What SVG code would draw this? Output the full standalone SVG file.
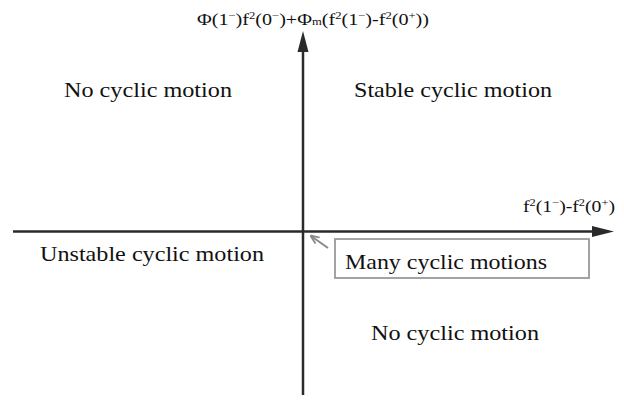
<svg xmlns="http://www.w3.org/2000/svg" width="624" height="401" viewBox="0 0 624 401">
<style>
text{font-family:'Times New Roman','Liberation Serif',serif;fill:#111}
.lbl{font-size:21px}
.ax{font-size:16px}
.sup{font-size:10px}
.axis{stroke:#2a2a2a;stroke-width:2.5;fill:none}
</style>
<defs>
<marker id="ahg" viewBox="0 0 10 10" refX="9" refY="5" markerWidth="9" markerHeight="9" markerUnits="userSpaceOnUse" orient="auto">
<path d="M0,1 L10,5 L0,9" fill="none" stroke="#8a8a8a" stroke-width="2"/>
</marker>
</defs>
<g id="connectors">
<line class="axis" x1="303" y1="395" x2="303" y2="40"/>
<path d="M297.5,52 L303,31 L308.5,52 Z" fill="#2a2a2a"/>
<line class="axis" x1="13" y1="231.5" x2="598" y2="231.5"/>
<path d="M592,226 L614,231.5 L592,237 Z" fill="#2a2a2a"/>
<line x1="328" y1="248" x2="311" y2="236" stroke="#8a8a8a" stroke-width="2" marker-end="url(#ahg)"/>
</g>
<g id="y-label">
<text class="ax" x="197" y="25" textLength="232" lengthAdjust="spacingAndGlyphs">Φ(1<tspan class="sup" dy="-6">−</tspan><tspan dy="6">)f</tspan><tspan class="sup" dy="-6">2</tspan><tspan dy="6">(0</tspan><tspan class="sup" dy="-6">−</tspan><tspan dy="6">)+Φ</tspan><tspan class="sup">m</tspan>(f<tspan class="sup" dy="-6">2</tspan><tspan dy="6">(1</tspan><tspan class="sup" dy="-6">−</tspan><tspan dy="6">)-f</tspan><tspan class="sup" dy="-6">2</tspan><tspan dy="6">(0</tspan><tspan class="sup" dy="-6">+</tspan><tspan dy="6">))</tspan></text>
</g>
<g id="x-label">
<text class="ax" x="523" y="212" textLength="92" lengthAdjust="spacingAndGlyphs">f<tspan class="sup" dy="-6">2</tspan><tspan dy="6">(1</tspan><tspan class="sup" dy="-6">−</tspan><tspan dy="6">)-f</tspan><tspan class="sup" dy="-6">2</tspan><tspan dy="6">(0</tspan><tspan class="sup" dy="-6">+</tspan><tspan dy="6">)</tspan></text>
</g>
<g id="q2">
<text class="lbl" x="64" y="97" textLength="168" lengthAdjust="spacingAndGlyphs">No cyclic motion</text>
</g>
<g id="q1">
<text class="lbl" x="354" y="97" textLength="198" lengthAdjust="spacingAndGlyphs">Stable cyclic motion</text>
</g>
<g id="q3">
<text class="lbl" x="40" y="261" textLength="224" lengthAdjust="spacingAndGlyphs">Unstable cyclic motion</text>
</g>
<g id="q4">
<text class="lbl" x="371" y="340" textLength="168" lengthAdjust="spacingAndGlyphs">No cyclic motion</text>
</g>
<g id="many">
<rect x="335" y="239" width="254" height="39" fill="none" stroke="#9a9a9a" stroke-width="1.8"/>
<text class="lbl" x="345" y="269" textLength="202" lengthAdjust="spacingAndGlyphs">Many cyclic motions</text>
</g>
</svg>
